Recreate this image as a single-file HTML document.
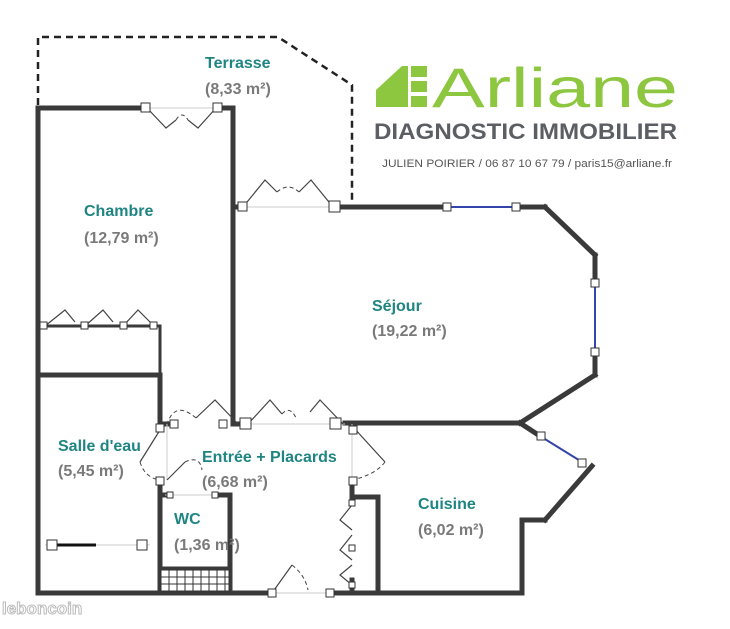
<!DOCTYPE html>
<html><head><meta charset="utf-8"><style>
body{margin:0;background:#fff;width:730px;height:629px;overflow:hidden}
svg{display:block}
.t{font-family:"Liberation Sans",sans-serif;font-weight:bold;font-size:16px;fill:#1f8582}
.a{font-family:"Liberation Sans",sans-serif;font-weight:bold;font-size:16px;fill:#7a7a7a}
</style></head><body>
<svg width="730" height="629" viewBox="0 0 730 629">
<!-- terrace dashed -->
<polyline points="38,105 38,37 278,37 352,85 352,205" fill="none" stroke="#222" stroke-width="2.5" stroke-dasharray="7,5"/>
<g stroke="#3a3a3a" stroke-width="5" fill="none" stroke-linecap="square">
<!-- outer left & bottom -->
<line x1="38" y1="108" x2="38" y2="593"/>
<line x1="38" y1="593" x2="272" y2="593"/>
<line x1="330" y1="593" x2="522" y2="593"/>
<line x1="522" y1="593" x2="522" y2="520"/>
<line x1="522" y1="520" x2="545" y2="520"/>
<line x1="545" y1="520" x2="592" y2="466"/>
<!-- chambre top -->
<line x1="38" y1="108" x2="145" y2="108"/>
<line x1="218" y1="108" x2="233" y2="108"/>
<line x1="233" y1="108" x2="233" y2="424"/>
<!-- sejour -->
<line x1="233" y1="207" x2="240" y2="207"/>
<line x1="335" y1="207" x2="447" y2="207"/>
<line x1="516" y1="207" x2="545" y2="207"/>
<line x1="545" y1="207" x2="595" y2="255"/>
<line x1="595" y1="255" x2="595" y2="283"/>
<line x1="595" y1="352" x2="595" y2="375"/>
<line x1="595" y1="375" x2="520" y2="423"/>
<line x1="520" y1="423" x2="540" y2="436"/>
<line x1="345" y1="423" x2="520" y2="423"/>
<line x1="233" y1="424" x2="240" y2="424"/>
<!-- chambre internal -->
<line x1="38" y1="326" x2="160" y2="326" stroke-width="3"/>
<line x1="160" y1="326" x2="160" y2="424" stroke-width="3"/>
<line x1="38" y1="375" x2="160" y2="375"/>
<line x1="160" y1="375" x2="160" y2="424"/>
<line x1="160" y1="424" x2="167" y2="424"/>
<!-- WC -->
<line x1="160" y1="480" x2="160" y2="593"/>
<line x1="160" y1="495" x2="165" y2="495"/>
<line x1="214" y1="495" x2="230" y2="495"/>
<line x1="230" y1="495" x2="230" y2="593"/>
<line x1="160" y1="568" x2="230" y2="568" stroke-width="3"/>
<!-- placard -->
<line x1="352" y1="480" x2="352" y2="500"/>
<line x1="352" y1="497" x2="378" y2="497"/>
<line x1="378" y1="497" x2="378" y2="593"/>
<line x1="352" y1="580" x2="352" y2="593"/>
</g>
<!-- WC grid -->
<g stroke="#333" stroke-width="1">
<rect x="161" y="570" width="68" height="21" fill="#fff"/>
<line x1="161" y1="577" x2="229" y2="577"/><line x1="161" y1="584" x2="229" y2="584"/>
<line x1="169" y1="570" x2="169" y2="591"/><line x1="177" y1="570" x2="177" y2="591"/><line x1="185" y1="570" x2="185" y2="591"/><line x1="193" y1="570" x2="193" y2="591"/><line x1="201" y1="570" x2="201" y2="591"/><line x1="209" y1="570" x2="209" y2="591"/><line x1="217" y1="570" x2="217" y2="591"/><line x1="225" y1="570" x2="225" y2="591"/>
</g>
<!-- thin lines -->
<g stroke="#ccc" stroke-width="1">
<line x1="145" y1="108" x2="218" y2="108"/><line x1="240" y1="207" x2="335" y2="207"/>
<line x1="240" y1="424" x2="345" y2="424"/><line x1="167" y1="424" x2="167" y2="480"/>
<line x1="165" y1="495" x2="214" y2="495"/><line x1="272" y1="593" x2="330" y2="593"/>
<line x1="352" y1="424" x2="352" y2="480"/><line x1="45" y1="545" x2="150" y2="545"/>
</g>
<line x1="50" y1="545" x2="96" y2="545" stroke="#111" stroke-width="3"/>
<!-- blue windows -->
<g stroke="#3344aa" stroke-width="2"><line x1="447" y1="207" x2="516" y2="207"/><line x1="595" y1="283" x2="595" y2="352"/><line x1="540" y1="436" x2="582" y2="462"/></g>
<!-- door leaves -->
<g stroke="#444" stroke-width="1.2" fill="none">
<path d="M147,108 L166,128 L176,120 M216,108 L198,128 L188,120"/>
<path d="M243,207 L265,180 L277,192 M333,207 L311,180 L299,192"/>
<path d="M45,326 L65,310 L75,322 M85,326 L103,310 L113,322 M123,326 L138,310 L152,324"/>
<path d="M238,424 L215,400 L196,418 M248,424 L270,400 L282,414 M343,424 L320,400 L310,412"/>
<path d="M354,428 L385,462 M167,480 L185,462 M272,593 L292,565 M160,430 L140,462"/>
<path d="M352,505 L340,520 L352,530 M352,535 L340,550 L352,560 M352,565 L340,575 L352,585"/>
</g>
<g stroke="#444" stroke-width="1" fill="none" stroke-dasharray="4,3">
<path d="M176,120 Q182,110 188,120"/><path d="M277,192 Q288,182 299,192"/>
<path d="M196,418 Q175,400 167,424"/><path d="M282,414 Q290,405 296,418"/>
<path d="M385,462 Q375,475 352,480"/><path d="M292,565 Q305,575 308,590"/>
<path d="M140,462 Q145,478 160,480"/><path d="M185,462 Q200,455 202,470"/>
</g>
<!-- squares -->
<g fill="#fff" stroke="#333" stroke-width="1">
<rect x="141" y="103" width="9" height="9"/><rect x="213" y="103" width="9" height="9"/>
<rect x="238" y="202" width="9" height="9"/><rect x="329" y="201" width="11" height="11"/>
<rect x="443" y="203" width="8" height="8"/><rect x="512" y="203" width="8" height="8"/>
<rect x="591" y="279" width="8" height="8"/><rect x="591" y="348" width="8" height="8"/>
<rect x="537" y="432" width="8" height="8"/><rect x="578" y="459" width="8" height="8"/>
<rect x="40" y="322" width="7" height="7"/><rect x="81" y="322" width="7" height="7"/><rect x="120" y="322" width="7" height="7"/><rect x="150" y="322" width="7" height="7"/>
<rect x="156" y="424" width="8" height="8"/><rect x="170" y="420" width="8" height="8"/><rect x="219" y="420" width="8" height="8"/>
<rect x="240" y="418" width="11" height="11"/><rect x="330" y="418" width="11" height="11"/><rect x="349" y="426" width="8" height="8"/>
<rect x="156" y="477" width="8" height="8"/><rect x="167" y="492" width="6" height="6"/><rect x="212" y="492" width="6" height="6"/>
<rect x="349" y="477" width="8" height="8"/><rect x="349" y="500" width="6" height="6"/><rect x="349" y="545" width="6" height="6"/><rect x="349" y="582" width="6" height="6"/>
<rect x="47" y="540" width="10" height="10"/><rect x="137" y="540" width="10" height="10"/>
<rect x="268" y="589" width="8" height="8"/><rect x="326" y="589" width="8" height="8"/>
</g>
<!-- labels -->
<text class="t" x="205" y="68">Terrasse</text><text class="a" x="205" y="94">(8,33 m²)</text>
<text class="t" x="84" y="216">Chambre</text><text class="a" x="84" y="243">(12,79 m²)</text>
<text class="t" x="372" y="311">Séjour</text><text class="a" x="372" y="336">(19,22 m²)</text>
<text class="t" x="58" y="451">Salle d'eau</text><text class="a" x="58" y="476">(5,45 m²)</text>
<text class="t" x="202" y="462">Entrée + Placards</text><text class="a" x="202" y="487">(6,68 m²)</text>
<text class="t" x="174" y="524">WC</text><text class="a" x="174" y="550">(1,36 m²)</text>
<text class="t" x="418" y="509">Cuisine</text><text class="a" x="418" y="535">(6,02 m²)</text>
<!-- logo -->
<g fill="#8dc63f">
<polygon points="376,107 376,90 402,66 408,66 408,107"/>
<rect x="411" y="66" width="16" height="11"/><rect x="411" y="81" width="16" height="11"/><rect x="411" y="96" width="16" height="11"/>
</g>
<text x="432" y="107" font-family="Liberation Sans,sans-serif" font-size="56" fill="#8dc63f" textLength="246" lengthAdjust="spacingAndGlyphs">Arliane</text>
<text x="374" y="139" font-family="Liberation Sans,sans-serif" font-weight="bold" font-size="22" fill="#5b5e63" textLength="303" lengthAdjust="spacingAndGlyphs">DIAGNOSTIC IMMOBILIER</text>
<text x="382" y="167" font-family="Liberation Sans,sans-serif" font-size="11" fill="#555" textLength="290" lengthAdjust="spacingAndGlyphs">JULIEN POIRIER / 06 87 10 67 79 / paris15@arliane.fr</text>
<text x="2" y="614" font-family="Liberation Sans,sans-serif" font-weight="bold" font-size="17" fill="#fff" stroke="#bbb" stroke-width="1">leboncoin</text>
</svg>
</body></html>
